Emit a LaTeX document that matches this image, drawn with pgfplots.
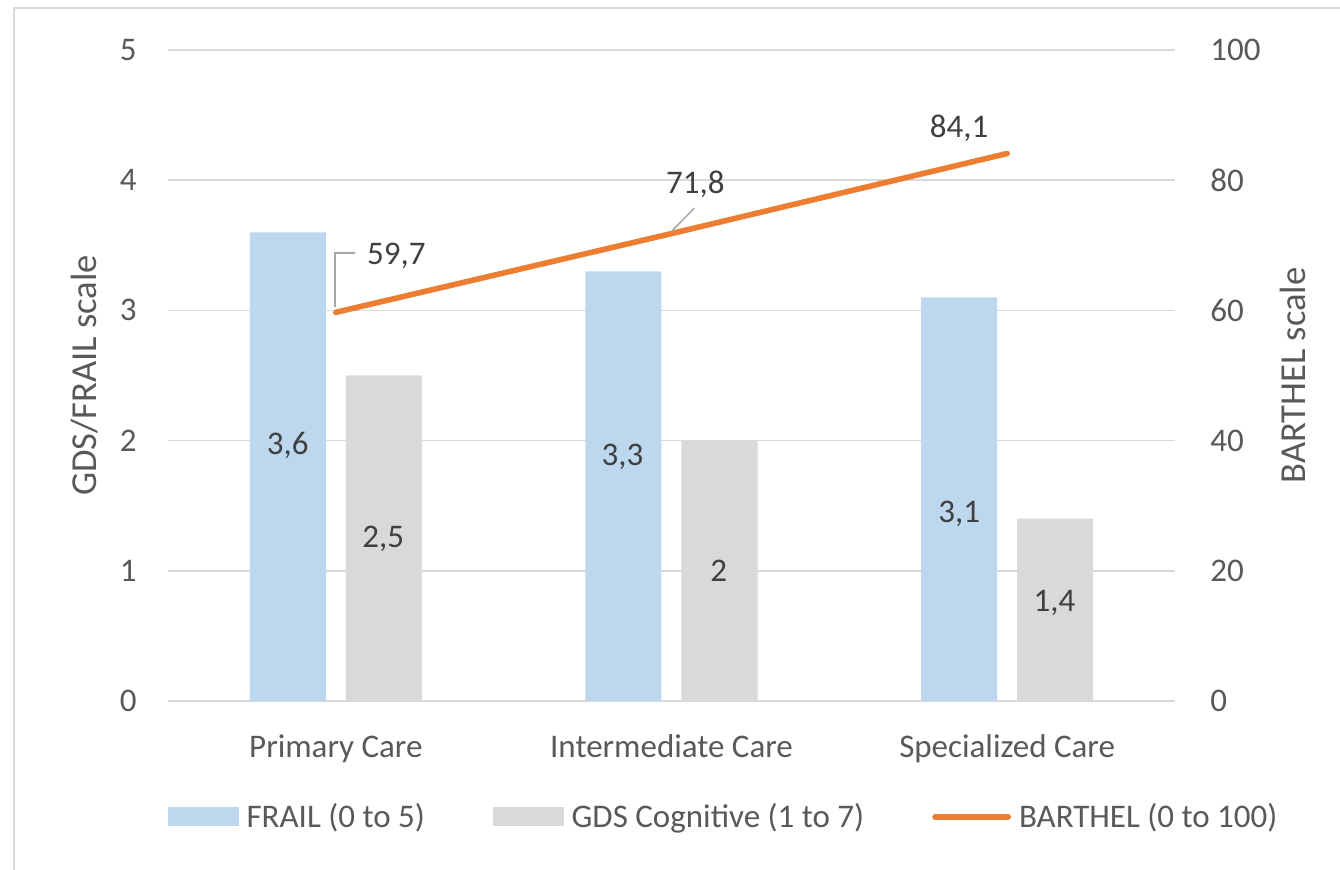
\documentclass[border=0pt]{standalone}
\usepackage{pgfplots}
\pgfplotsset{compat=1.18}
\usepackage{fontspec}
\setmainfont{Carlito}
\definecolor{frail}{HTML}{BDD7EE}
\definecolor{gds}{HTML}{D9D9D9}
\definecolor{barthel}{HTML}{ED7D31}
\definecolor{gridc}{HTML}{D9D9D9}
\definecolor{tickc}{HTML}{595959}
\definecolor{labc}{HTML}{404040}
\definecolor{leader}{HTML}{A6A6A6}
\definecolor{framec}{HTML}{D9D9D9}
\pgfplotsset{
  common/.style={
    scale only axis, width=503.5pt, height=325.5pt, at={(0pt,0pt)}, anchor=south west,
    xmin=-0.5, xmax=2.5, axis line style={draw=none}, major tick length=0pt,
    ticklabel style={font=\fontsize{16.5}{18}\selectfont, text=tickc, inner sep=0pt},
    /pgf/number format/assume math mode=true,
  },
}
\tikzset{datalab/.style={font=\fontsize{16.5}{18}\selectfont, text=labc, inner sep=0pt}}
\begin{document}
\begin{tikzpicture}
\useasboundingbox (-84pt,-84.5pt) rectangle (586pt,350.5pt);
\draw[framec, line width=1pt] (-77pt,-90pt) -- (-77pt,346.5pt) -- (590pt,346.5pt);
\begin{axis}[common, ymin=0, ymax=5, ytick={0,1,2,3,4,5},
  ymajorgrids, grid style={gridc, line width=0.8pt},
  xtick={0,1,2}, xticklabels={Primary Care, Intermediate Care, Specialized Care},
  xticklabel style={yshift=-17pt, text height=11pt, text depth=3pt},
  yticklabel style={xshift=-15.5pt},
  ylabel={GDS/FRAIL scale},
  ylabel style={at={(axis description cs:-0.0824,0.5)}, anchor=center, font=\fontsize{18.3}{20}\selectfont, text=tickc},
  ybar, bar width=38pt]
\addplot[fill=frail, draw=none, bar shift=-24pt] coordinates {(0,3.6) (1,3.3) (2,3.1)};
\addplot[fill=gds, draw=none, bar shift=24pt] coordinates {(0,2.5) (1,2.0) (2,1.4)};
\node[datalab, anchor=base] at (axis cs:-0.143,1.89) {3,6};
\node[datalab, anchor=base] at (axis cs:0.141,1.18) {2,5};
\node[datalab, anchor=base] at (axis cs:0.854,1.81) {3,3};
\node[datalab, anchor=base] at (axis cs:1.141,0.92) {2};
\node[datalab, anchor=base] at (axis cs:1.857,1.37) {3,1};
\node[datalab, anchor=base] at (axis cs:2.141,0.69) {1,4};
\end{axis}
\begin{axis}[common, ymin=0, ymax=100, ytick={0,20,40,60,80,100},
  yticklabel pos=right, xtick=\empty,
  yticklabel style={xshift=17.5pt},
  ylabel={BARTHEL scale},
  ylabel style={at={(axis description cs:1.117,0.5)}, anchor=center, font=\fontsize{18.3}{20}\selectfont, text=tickc},
  legend columns=3,
  legend style={draw=none, fill=none, font=\fontsize{16.5}{18}\selectfont, text=tickc,
    at={(axis description cs:0.5507,-0.178)}, anchor=center, inner sep=0pt,
    nodes={inner sep=0pt},
    /tikz/every odd column/.style={column sep=4pt},
    /tikz/every even column/.style={column sep=34pt}},
  ]
\addlegendimage{legend image code/.code={\fill[frail] (0pt,-4.5pt) rectangle (35pt,4.5pt);}}
\addlegendentry{FRAIL (0 to 5)}
\addlegendimage{legend image code/.code={\fill[gds] (0pt,-4.5pt) rectangle (35pt,4.5pt);}}
\addlegendentry{GDS Cognitive (1 to 7)}
\addplot[barthel, line width=2.8pt, line cap=round, mark=none,
  legend image code/.code={\draw[barthel, line width=2.8pt, line cap=round] (1.4pt,0pt) -- (38pt,0pt);}]
  coordinates {(0,59.7) (1,71.8) (2,84.1)};
\addlegendentry{BARTHEL (0 to 100)}
\draw[leader, line width=0.75pt] (axis cs:-0.003,60.5) |- (axis cs:0.057,68.8);
\node[datalab, anchor=base west] at (axis cs:0.092,67.0) {59,7};
\draw[leader, line width=0.75pt] (axis cs:1.003,72.3) -- (axis cs:1.068,75.7);
\node[datalab, anchor=base] at (axis cs:1.071,78.0) {71,8};
\node[datalab, anchor=base] at (axis cs:1.857,86.6) {84,1};
\end{axis}
\end{tikzpicture}
\end{document}
